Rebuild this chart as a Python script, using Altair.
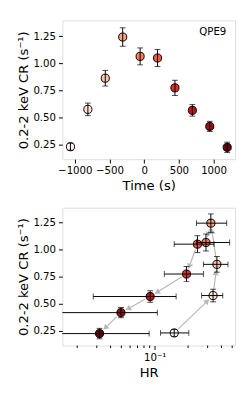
import math
import altair as alt
import pandas as pd

# ---- data ----
time_s = [-1063, -812, -561, -310, -59, 192, 443, 694, 945, 1196]
cr = [0.232, 0.576, 0.863, 1.242, 1.064, 1.049, 0.774, 0.567, 0.419, 0.226]
cr_err = [0.032, 0.058, 0.072, 0.085, 0.078, 0.078, 0.070, 0.053, 0.047, 0.048]
hr = [0.150, 0.336, 0.364, 0.321, 0.290, 0.243, 0.1935, 0.0910, 0.0496, 0.0318]
hr_lo = [0.113, 0.265, 0.275, 0.238, 0.238, 0.150, 0.122, 0.0279, 0.005, 0.005]
hr_hi = [0.203, 0.411, 0.458, 0.446, 0.474, 0.343, 0.275, 0.156, 0.1056, 0.0891]
idx = list(range(len(time_s)))

time_ticks = [-1000, -500, 0, 500, 1000]
cr_ticks = [0.25, 0.50, 0.75, 1.00, 1.25]
hr_major = [0.1]
hr_minor = [0.02, 0.03, 0.04, 0.05, 0.06, 0.07, 0.08, 0.09, 0.2, 0.3, 0.4, 0.5]

# Reds colormap sampled at 10 points
colors = ["#fff5f0", "#fee2d5", "#fcc3ac", "#fca082", "#fb7c5c",
          "#f6553d", "#e32f27", "#c3161b", "#9e0d14", "#67000d"]

W, H1, H2 = 178, 143, 142
XT = (-1180, 1310)
YT = (0.117, 1.395)
XL = (0.01468, 0.531)
YB = (0.116, 1.384)
FONT = "DejaVu Sans"

df = pd.DataFrame({
    "i": idx, "t": time_s, "cr": cr,
    "lo": [c - e for c, e in zip(cr, cr_err)],
    "hi": [c + e for c, e in zip(cr, cr_err)],
    "hr": hr, "hr_lo": hr_lo, "hr_hi": hr_hi,
})

# ---- arrows between consecutive points (computed in pixel space) ----
lx0, lx1 = math.log10(XL[0]), math.log10(XL[1])


def to_px(h, c):
    return (W * (math.log10(h) - lx0) / (lx1 - lx0),
            H2 * (YB[1] - c) / (YB[1] - YB[0]))


def to_data(x, y):
    return (10 ** (lx0 + x / W * (lx1 - lx0)),
            YB[1] - y / H2 * (YB[1] - YB[0]))


HEAD = 42
hr_r = math.sqrt(HEAD) / 2
head_h = 0.866 * hr_r
seg_rows, head_rows = [], []
for k in range(len(hr) - 1):
    p0 = to_px(hr[k], cr[k])
    p1 = to_px(hr[k + 1], cr[k + 1])
    vx, vy = p1[0] - p0[0], p1[1] - p0[1]
    L = math.hypot(vx, vy)
    if L < 13:
        continue
    ux, uy = vx / L, vy / L
    s = (p0[0] + ux * 6, p0[1] + uy * 6)
    tip = (p1[0] - ux * 5.5, p1[1] - uy * 5.5)
    c = (tip[0] - ux * head_h, tip[1] - uy * head_h)
    sd, cd = to_data(*s), to_data(*c)
    seg_rows.append({"x0": sd[0], "y0": sd[1], "x1": cd[0], "y1": cd[1]})
    ang = math.degrees(math.atan2(ux, -uy)) % 360
    head_rows.append({"x": cd[0], "y": cd[1], "ang": ang})
seg = pd.DataFrame(seg_rows)
heads = pd.DataFrame(head_rows)

color_enc = alt.Color("i:O", scale=alt.Scale(domain=idx, range=colors), legend=None)
ytitle = "0.2-2 keV CR (s\u207b\u00b9)"

yax_t = alt.Axis(values=cr_ticks, format=".2f", title=ytitle)
xax_t = alt.Axis(values=time_ticks, format="d", title="Time (s)")
xax_b = alt.Axis(values=hr_major, labelExpr="datum.value == 0.1 ? '10\u207b\u00b9' : ''",
                 title="HR")
yax_b = alt.Axis(values=cr_ticks, format=".2f", title=ytitle)

# ---------------- top panel ----------------
xs_t = alt.Scale(domain=list(XT), nice=False, zero=False)
ys_t = alt.Scale(domain=list(YT), nice=False, zero=False)
X_T = alt.X("t:Q", scale=xs_t, axis=xax_t)

base_t = alt.Chart(df)
pts_t = base_t.mark_circle(size=70, stroke="black", strokeWidth=1, opacity=1).encode(
    x=X_T, y=alt.Y("cr:Q", scale=ys_t, axis=yax_t), color=color_enc)
bar_t = base_t.mark_rule(color="black", strokeWidth=1).encode(
    x=X_T, y=alt.Y("lo:Q", scale=ys_t, axis=yax_t), y2="hi:Q")
cap_lo_t = base_t.mark_tick(orient="horizontal", size=6, thickness=1, color="black").encode(
    x=X_T, y=alt.Y("lo:Q", scale=ys_t, axis=yax_t))
cap_hi_t = base_t.mark_tick(orient="horizontal", size=6, thickness=1, color="black").encode(
    x=X_T, y=alt.Y("hi:Q", scale=ys_t, axis=yax_t))
label_t = alt.Chart(pd.DataFrame({"txt": ["QPE9"]})).mark_text(
    align="right", baseline="middle", fontSize=10.5, font=FONT, color="black").encode(
    text="txt:N", x=alt.value(169), y=alt.value(12.5))

top = alt.layer(pts_t, bar_t, cap_lo_t, cap_hi_t, label_t).properties(width=W, height=H1)

# ---------------- bottom panel ----------------
xs_b = alt.Scale(type="log", domain=list(XL), nice=False)
ys_b = alt.Scale(domain=list(YB), nice=False, zero=False)

base_b = alt.Chart(df)
arrows = alt.Chart(seg).mark_rule(color="#b8b8b8", strokeWidth=1.2).encode(
    x=alt.X("x0:Q", scale=xs_b, axis=xax_b), y=alt.Y("y0:Q", scale=ys_b, axis=yax_b),
    x2="x1:Q", y2="y1:Q")
arrow_heads = alt.Chart(heads).mark_point(shape="triangle-up", filled=True, size=HEAD,
                                          color="#b8b8b8", opacity=1).encode(
    x=alt.X("x:Q", scale=xs_b, axis=xax_b), y=alt.Y("y:Q", scale=ys_b, axis=yax_b),
    angle=alt.Angle("ang:Q", scale=None))
pts_b = base_b.mark_circle(size=70, stroke="black", strokeWidth=1, opacity=1).encode(
    x=alt.X("hr:Q", scale=xs_b, axis=xax_b),
    y=alt.Y("cr:Q", scale=ys_b, axis=yax_b),
    color=color_enc,
)
ybar_b = base_b.mark_rule(color="black", strokeWidth=1).encode(
    x=alt.X("hr:Q", scale=xs_b, axis=xax_b), y=alt.Y("lo:Q", scale=ys_b, axis=yax_b), y2="hi:Q")
ycap_lo = base_b.mark_tick(orient="horizontal", size=6, thickness=1, color="black").encode(
    x=alt.X("hr:Q", scale=xs_b, axis=xax_b), y=alt.Y("lo:Q", scale=ys_b, axis=yax_b))
ycap_hi = base_b.mark_tick(orient="horizontal", size=6, thickness=1, color="black").encode(
    x=alt.X("hr:Q", scale=xs_b, axis=xax_b), y=alt.Y("hi:Q", scale=ys_b, axis=yax_b))
xbar_b = base_b.mark_rule(color="black", strokeWidth=1, clip=True).encode(
    x=alt.X("hr_lo:Q", scale=xs_b, axis=xax_b), x2="hr_hi:Q",
    y=alt.Y("cr:Q", scale=ys_b, axis=yax_b))
xcap_lo = base_b.mark_tick(orient="vertical", size=6, thickness=1, color="black", clip=True).encode(
    x=alt.X("hr_lo:Q", scale=xs_b, axis=xax_b), y=alt.Y("cr:Q", scale=ys_b, axis=yax_b))
xcap_hi = base_b.mark_tick(orient="vertical", size=6, thickness=1, color="black", clip=True).encode(
    x=alt.X("hr_hi:Q", scale=xs_b, axis=xax_b), y=alt.Y("cr:Q", scale=ys_b, axis=yax_b))
minor = alt.Chart(pd.DataFrame({"m": hr_minor})).mark_rule(color="black", strokeWidth=1).encode(
    x=alt.X("m:Q", scale=xs_b, axis=xax_b), y=alt.value(H2), y2=alt.value(H2 + 2.5))

bottom = alt.layer(arrows, arrow_heads, pts_b, ybar_b, ycap_lo, ycap_hi,
                   xbar_b, xcap_lo, xcap_hi, minor).properties(width=W, height=H2)

chart = alt.vconcat(top, bottom, spacing=14).properties(
    padding={"left": 8, "top": 6, "right": 2, "bottom": 5}
).configure_view(stroke="black", strokeWidth=1).configure(font=FONT).configure_axis(
    grid=False, domain=False, tickColor="black", tickSize=4,
    labelColor="black", labelFontSize=10.5, labelPadding=3,
    labelOverlap=False, labelFlush=False,
    titleColor="black", titleFontSize=13.5, titleFontWeight="normal",
    labelFont=FONT, titleFont=FONT, titlePadding=3,
)

chart.save("out.html", embed_options={"renderer": "svg", "actions": False})
